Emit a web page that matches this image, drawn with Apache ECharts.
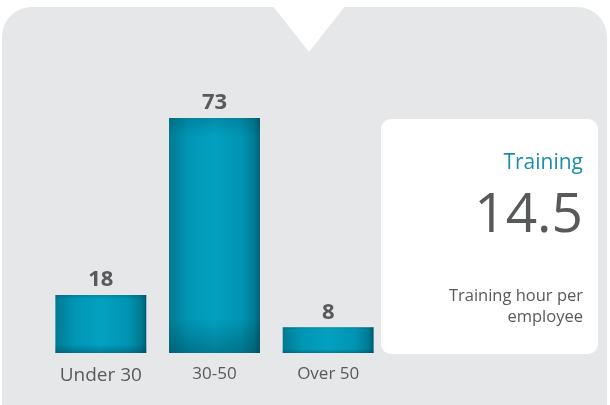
<!DOCTYPE html>
<html>
<head>
<meta charset="utf-8">
<script src="https://cdn.jsdelivr.net/npm/echarts@6/dist/echarts.min.js"></script>
<style>
  html, body { margin: 0; padding: 0; background: #fff; }
  #chart { width: 610px; height: 405px; }
</style>
</head>
<body>
<div id="chart"></div>
<script>
var categories = ['Under 30', '30-50', 'Over 50'];
var values = [18, 73, 8];
var cardTitle = 'Training';
var cardValue = '14.5';
var cardNote = 'Training hour per\nemployee';

var chart = echarts.init(document.getElementById('chart'));

// sides darker, middle lighter
var barColor = {
  type: 'linear', x: 0, y: 0, x2: 1, y2: 0,
  colorStops: [
    { offset: 0, color: '#007a92' },
    { offset: 0.2, color: '#0095b3' },
    { offset: 0.5, color: '#03a1c1' },
    { offset: 0.8, color: '#0094b2' },
    { offset: 0.94, color: '#007b94' },
    { offset: 1, color: '#005c70' }
  ]
};
// top / bottom shade laid over the bars
var shade = {
  type: 'linear', x: 0, y: 0, x2: 0, y2: 1,
  colorStops: [
    { offset: 0, color: 'rgba(0,50,65,0.2)' },
    { offset: 0.08, color: 'rgba(0,50,65,0)' },
    { offset: 0.85, color: 'rgba(0,50,65,0)' },
    { offset: 1, color: 'rgba(0,50,65,0.35)' }
  ]
};

chart.setOption({
  backgroundColor: '#ffffff',
  textStyle: { fontFamily: 'Open Sans' },
  graphic: {
    elements: [
      {
        type: 'rect', z: -10,
        shape: { x: 2, y: 7, width: 605, height: 420, r: [30, 30, 0, 0] },
        style: { fill: '#e6e7e9' }
      },
      {
        type: 'polygon', z: -9,
        shape: { points: [[272, 5], [346, 5], [309, 52]] },
        style: { fill: '#ffffff' }
      },
      {
        type: 'rect', z: -9,
        shape: { x: 381, y: 119, width: 217, height: 235, r: 10 },
        style: { fill: '#ffffff' }
      },
      {
        type: 'text', z: -8, x: 583, y: 163,
        style: { text: cardTitle, fill: '#1b8eaa', font: '21px "Open Sans"', align: 'right', verticalAlign: 'middle' }
      },
      {
        type: 'text', z: -8, x: 583, y: 216,
        style: { text: cardValue, fill: '#58595b', font: '55px "Open Sans"', align: 'right', verticalAlign: 'middle' }
      },
      {
        type: 'text', z: -8, x: 583, y: 307,
        style: { text: cardNote, fill: '#58595b', font: '16.5px "Open Sans"', align: 'right', verticalAlign: 'middle', lineHeight: 21 }
      }
    ]
  },
  grid: { left: 44, right: 225, top: 31, bottom: 52 },
  xAxis: {
    type: 'category',
    data: categories,
    axisLine: { show: false },
    axisTick: { show: false },
    axisLabel: {
      margin: 13,
      formatter: function (v, i) { return i === 0 ? '{a|' + v + '}' : '{b|' + v + '}'; },
      rich: {
        a: { fontSize: 19, color: '#58595b', fontFamily: 'Open Sans' },
        b: { fontSize: 17, color: '#58595b', fontFamily: 'Open Sans' }
      }
    }
  },
  yAxis: {
    type: 'value', min: 0, max: 100, show: false
  },
  series: [{
    type: 'bar',
    data: values,
    barCategoryGap: '20%',
    itemStyle: { color: barColor },
    label: {
      show: true, position: 'top', distance: 4,
      fontSize: 22, fontWeight: 'bold', color: '#58595b', fontFamily: 'Open Sans'
    }
  }, {
    type: 'bar',
    data: values,
    barCategoryGap: '20%',
    barGap: '-100%',
    silent: true,
    itemStyle: { color: shade }
  }]
});
</script>
</body>
</html>
